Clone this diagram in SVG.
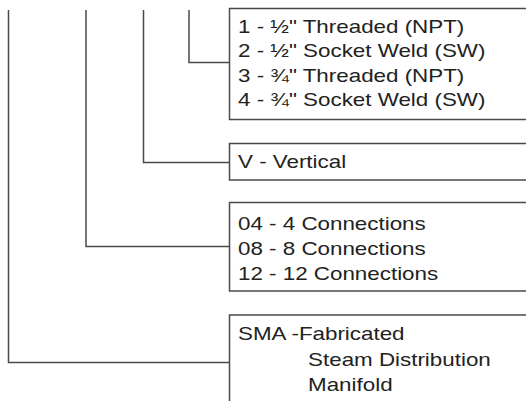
<svg xmlns="http://www.w3.org/2000/svg" width="526" height="401" viewBox="0 0 526 401">
  <style>
    .box { fill: #fff; stroke: #4a4a4a; stroke-width: 1.5; }
    .wire { fill: none; stroke: #4a4a4a; stroke-width: 1.5; }
    .lbl { font-family: "Liberation Sans", Arial, sans-serif; font-size: 18.5px; fill: #222; }
  </style>
  <rect width="526" height="401" fill="#fff"/>

  <!-- connectors: drop lines from the code positions into each option box -->
  <g id="connectors">
    <path class="wire" d="M189,10 V62.5 H229.5"/>
    <path class="wire" d="M143.5,10 V162.5 H229.5"/>
    <path class="wire" d="M86,10 V246.5 H229.5"/>
    <path class="wire" d="M8.5,10 V362.5 H229.5"/>
  </g>

  <!-- connection type -->
  <g id="node-connection">
    <rect class="box" x="229.5" y="8.5" width="310" height="111"/>
    <g class="lbl" transform="translate(238,0) scale(1.21,1)">
      <text x="0" y="33">1 - ½" Threaded (NPT)</text>
      <text x="0" y="57.5">2 - ½" Socket Weld (SW)</text>
      <text x="0" y="82">3 - ¾" Threaded (NPT)</text>
      <text x="0" y="106.5">4 - ¾" Socket Weld (SW)</text>
    </g>
  </g>

  <!-- orientation -->
  <g id="node-orientation">
    <rect class="box" x="229.5" y="143.5" width="310" height="36.5"/>
    <g class="lbl" transform="translate(238,0) scale(1.21,1)">
      <text x="0" y="168">V - Vertical</text>
    </g>
  </g>

  <!-- number of connections -->
  <g id="node-count">
    <rect class="box" x="229.5" y="202.5" width="310" height="88.5"/>
    <g class="lbl" transform="translate(238,0) scale(1.21,1)">
      <text x="0" y="230">04 - 4 Connections</text>
      <text x="0" y="255">08 - 8 Connections</text>
      <text x="0" y="280">12 - 12 Connections</text>
    </g>
  </g>

  <!-- model -->
  <g id="node-model">
    <rect class="box" x="229.5" y="315" width="310" height="100"/>
    <g class="lbl" transform="translate(238,0) scale(1.21,1)">
      <text x="0" y="340">SMA -Fabricated</text>
      <text x="57.9" y="366">Steam Distribution</text>
      <text x="57.9" y="391.5">Manifold</text>
    </g>
  </g>
</svg>
